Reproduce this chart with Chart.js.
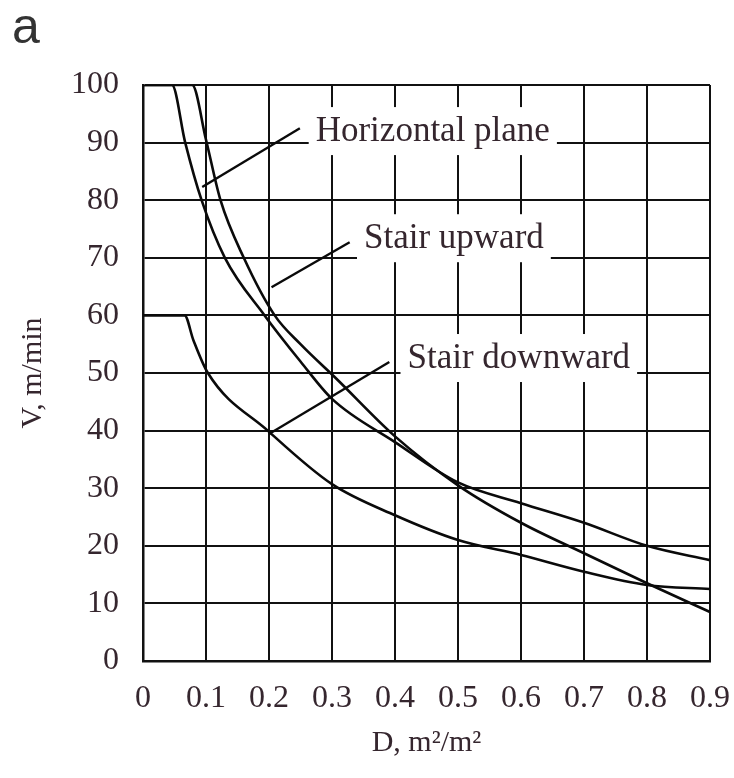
<!DOCTYPE html>
<html>
<head>
<meta charset="utf-8">
<script src="https://cdn.jsdelivr.net/npm/chart.js@4/dist/chart.umd.min.js"></script>
<style>
  html, body { margin: 0; padding: 0; background: #fff; }
  #wrap { width: 734px; height: 778px; }
</style>
</head>
<body>
<div id="wrap"><canvas id="grafico" width="734" height="778"></canvas></div>
<script>
// valores (D em m2/m2, V em m/min)
const horizD = [0, 0.046, 0.067, 0.093, 0.13, 0.193, 0.25, 0.3, 0.4, 0.5, 0.6, 0.7, 0.8, 0.9];
const horizV = [100, 100, 90, 80, 70, 60, 52, 45.5, 38, 31, 27.4, 24, 20, 17.5];

const subidaD = [0, 0.078, 0.1, 0.123, 0.16, 0.209, 0.25, 0.307, 0.4, 0.5, 0.6, 0.7, 0.8, 0.9];
const subidaV = [100, 100, 90.5, 80, 70, 60, 55, 49, 39, 30.5, 24, 18.7, 13.5, 8.5];

const descidaD = [0, 0.066, 0.08, 0.103, 0.198, 0.3, 0.4, 0.5, 0.6, 0.7, 0.8, 0.9];
const descidaV = [60, 60, 55.7, 50, 40, 30.7, 25.3, 21, 18.4, 15.5, 13.2, 12.5];

const nomesSeries = ['Horizontal plane', 'Stair upward', 'Stair downward'];

const xTickValores = [0, 0.1, 0.2, 0.3, 0.4, 0.5, 0.6, 0.7, 0.8, 0.9];
const xTickLabels = ['0', '0.1', '0.2', '0.3', '0.4', '0.5', '0.6', '0.7', '0.8', '0.9'];
const yTickValores = [0, 10, 20, 30, 40, 50, 60, 70, 80, 90, 100];

const corTexto = '#35262e';
const fonteSerif = "'Liberation Serif', 'Times New Roman', serif";

function pontos(xs, ys) {
    return xs.map(function (x, i) { return { x: x, y: ys[i] }; });
}

function serie(label, xs, ys) {
    return {
        label: label,
        data: pontos(xs, ys),
        borderColor: '#0a0a0a',
        borderWidth: 2.6,
        pointRadius: 0,
        fill: false,
        cubicInterpolationMode: 'monotone'
    };
}

// rótulos com linha de chamada (posições em unidades do gráfico)
const chamadas = [
    { serie: 0, texto: [0.46, 92.0], de: [0.094, 82.3], ate: [0.249, 92.5] },
    { serie: 1, texto: [0.4935, 73.4], de: [0.204, 64.9], ate: [0.328, 72.7] },
    { serie: 2, texto: [0.5965, 52.6], de: [0.2, 39.4], ate: [0.391, 51.9] }
];

const pluginChamadas = {
    id: 'chamadas',
    afterDatasetsDraw(chart) {
        const ctx = chart.ctx;
        const sx = chart.scales.x, sy = chart.scales.y;
        ctx.save();
        ctx.font = '35px ' + fonteSerif;
        chamadas.forEach(function (c) {
            ctx.strokeStyle = '#0a0a0a';
            ctx.lineWidth = 2.4;
            ctx.beginPath();
            ctx.moveTo(sx.getPixelForValue(c.de[0]), sy.getPixelForValue(c.de[1]));
            ctx.lineTo(sx.getPixelForValue(c.ate[0]), sy.getPixelForValue(c.ate[1]));
            ctx.stroke();

            const txt = nomesSeries[c.serie];
            const cx = sx.getPixelForValue(c.texto[0]);
            const cy = sy.getPixelForValue(c.texto[1]);
            const w = ctx.measureText(txt).width;
            ctx.fillStyle = '#ffffff';
            ctx.fillRect(cx - w / 2 - 7, cy - 24, w + 14, 48);
            ctx.fillStyle = corTexto;
            ctx.textAlign = 'center';
            ctx.textBaseline = 'middle';
            ctx.fillText(txt, cx, cy + 1);
        });
        ctx.restore();
    },
    afterDraw(chart) {
        const ctx = chart.ctx;
        ctx.save();
        ctx.font = "50px 'Liberation Sans', Arial, sans-serif";
        ctx.fillStyle = '#333333';
        ctx.textAlign = 'left';
        ctx.textBaseline = 'alphabetic';
        ctx.fillText('a', 12, 43);
        ctx.restore();
    }
};

const config = {
    type: 'line',
    data: {
        datasets: [
            serie(nomesSeries[0], horizD, horizV),
            serie(nomesSeries[1], subidaD, subidaV),
            serie(nomesSeries[2], descidaD, descidaV)
        ]
    },
    options: {
        responsive: false,
        animation: false,
        layout: { padding: { left: 0, right: 24, top: 85, bottom: 0 } },
        plugins: {
            legend: { display: false },
            tooltip: { enabled: false }
        },
        scales: {
            x: {
                type: 'linear',
                min: 0,
                max: 0.9,
                afterBuildTicks: function (scale) {
                    scale.ticks = xTickValores.map(function (v) { return { value: v }; });
                },
                afterFit: function (scale) {
                    scale.height = 117;
                    scale.paddingLeft = 0;
                    scale.paddingRight = 0;
                },
                grid: { color: '#111111', lineWidth: 2, drawTicks: false },
                border: { color: '#111111', width: 2.5 },
                ticks: {
                    padding: 18,
                    color: corTexto,
                    font: { family: fonteSerif, size: 32 },
                    maxRotation: 0,
                    callback: function (v, i) { return xTickLabels[i]; }
                },
                title: {
                    display: true,
                    text: 'D, m²/m²',
                    color: corTexto,
                    font: { family: fonteSerif, size: 30 },
                    padding: { top: 0, bottom: 17 }
                }
            },
            y: {
                type: 'linear',
                min: 0,
                max: 100,
                afterBuildTicks: function (scale) {
                    scale.ticks = yTickValores.map(function (v) { return { value: v }; });
                },
                afterFit: function (scale) {
                    scale.width = 143;
                    scale.paddingTop = 0;
                    scale.paddingBottom = 0;
                },
                grid: { color: '#111111', lineWidth: 2, drawTicks: false },
                border: { color: '#111111', width: 2.5 },
                ticks: {
                    padding: 24,
                    color: corTexto,
                    font: { family: fonteSerif, size: 32 }
                },
                title: {
                    display: true,
                    text: 'V, m/min',
                    color: corTexto,
                    font: { family: fonteSerif, size: 30 },
                    padding: { top: 15, bottom: 0 }
                }
            }
        }
    },
    plugins: [pluginChamadas]
};

const ctx = document.getElementById('grafico').getContext('2d');
window.myChart = new Chart(ctx, config);
</script>
</body>
</html>
